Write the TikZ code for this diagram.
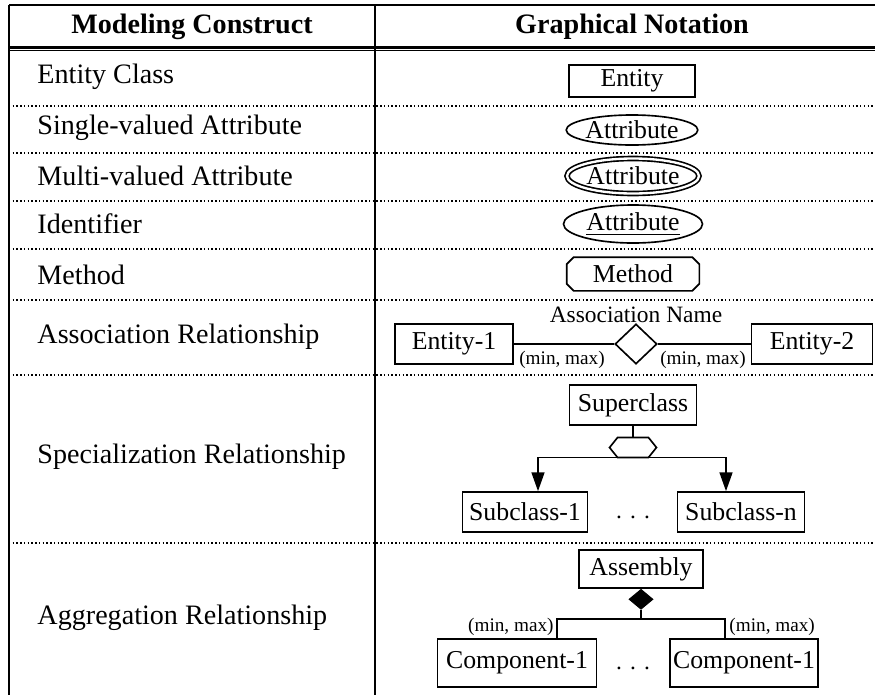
\documentclass[tikz,border=0pt]{standalone}
\usepackage{fontspec}
\setmainfont{Liberation Serif}
\usetikzlibrary{shapes.geometric,arrows.meta,calc}
\newlength\pxl
\setlength\pxl{0.015cm}

\begin{document}
\begin{tikzpicture}[x=0.015cm,y=-0.015cm,
    ent/.style={draw, line width=0.7pt, inner sep=0pt, font=\fontsize{11}{13}\selectfont},
    attr/.style={ent, ellipse},
    rowtext/.style={anchor=west, inner sep=0pt, font=\fontsize{12}{14}\selectfont},
    head/.style={inner sep=0pt, font=\fontsize{12}{14}\selectfont\bfseries},
    card/.style={inner sep=0pt, font=\fontsize{8.2}{10}\selectfont},
    tri/.style={-{Triangle[length=8pt,width=5.5pt]}, line width=0.7pt}]
        \useasboundingbox (0,0) rectangle (875,695);

        % table frame
        \draw[line width=0.8pt] (9,5) -- (875,5);
        \draw[line width=1pt] (9,47.5) -- (875,47.5);
        \draw[line width=0.6pt] (9,50.5) -- (875,50.5);
        \draw[line width=0.8pt] (9,5) -- (9,695);
        \draw[line width=0.8pt] (375,5) -- (375,695);
        \foreach \yy in {106,153,201,249,300,375,543}{
          \draw[densely dotted, line width=0.6pt] (9,\yy) -- (875,\yy);
        }

        \node[head] (hdl) at (192,27) {Modeling Construct};
        \node[head] (hdr) at (632,27) {Graphical Notation};

        \foreach \yy/\txt [count=\i] in {77/Entity Class, 128/Single-valued Attribute,
            176/Multi-valued Attribute, 224/Identifier, 275/Method,
            337/Association Relationship, 457/Specialization Relationship,
            618/Aggregation Relationship}{
          \node[rowtext] (row\i) at (37,\yy) {\txt};
        }

        % simple constructs
        \node[ent, minimum width=126\pxl, minimum height=32\pxl] (ent) at (632,81) {Entity};
        \node[attr, minimum width=129\pxl, minimum height=30\pxl] (sva) at (632,130) {Attribute};
        \node[attr, double, double distance=1pt, minimum width=132\pxl, minimum height=35\pxl] (mva) at (633,176) {Attribute};
        \node[attr, minimum width=139\pxl, minimum height=38\pxl] (ida) at (633,224) {\underline{Attribute}};
        \node[ent, draw=none, minimum width=131\pxl, minimum height=32\pxl] (meth) at (633,274) {Method};
        \draw[line width=0.7pt] ([yshift=-7\pxl]meth.north west) -- ([xshift=7\pxl]meth.north west)
            -- ([xshift=-7\pxl]meth.north east) -- ([yshift=-7\pxl]meth.north east)
            -- ([yshift=7\pxl]meth.south east) -- ([xshift=-7\pxl]meth.south east)
            -- ([xshift=7\pxl]meth.south west) -- ([yshift=7\pxl]meth.south west) -- cycle;

        % association
        \node[ent, minimum width=118\pxl, minimum height=40\pxl] (ent1) at (454,344) {Entity-1};
        \node[ent, minimum width=121\pxl, minimum height=40\pxl] (ent2) at (812,344) {Entity-2};
        \node[draw, diamond, line width=0.7pt, inner sep=0pt, minimum width=42\pxl, minimum height=40\pxl] (rel) at (636,344) {};
        \node[inner sep=0pt, font=\fontsize{10}{12}\selectfont] (relname) at (636,315) {Association Name};
        \draw[line width=0.7pt] (ent1) -- (rel) -- (ent2);
        \node[card] (card1) at (562,360) {(min, max)};
        \node[card] (card2) at (703,360) {(min, max)};

        % specialization
        \node[ent, minimum width=127\pxl, minimum height=40\pxl] (sup) at (633,405) {Superclass};
        \node[inner sep=0pt, minimum width=46\pxl, minimum height=19\pxl] (hex) at (633,447.5) {};
        \draw[line width=0.7pt] (hex.west) -- ([xshift=8\pxl]hex.north west) -- ([xshift=-8\pxl]hex.north east)
            -- (hex.east) -- ([xshift=-8\pxl]hex.south east) -- ([xshift=8\pxl]hex.south west) -- cycle;
        \node[ent, minimum width=125\pxl, minimum height=40\pxl] (sub1) at (525,512) {Subclass-1};
        \node[ent, minimum width=127\pxl, minimum height=40\pxl] (subn) at (741,512) {Subclass-n};
        \node[inner sep=0pt] (sdots) at (633,517) {.\hspace{0.35em}.\hspace{0.35em}.};
        \draw[line width=0.7pt] (sup) -- (hex);
        \draw[tri] (hex.south) -| ($(sub1.north)+(13,0)$);
        \draw[tri] (hex.south) -| ($(subn.north)+(-15,0)$);

        % aggregation
        \node[ent, minimum width=124\pxl, minimum height=38\pxl] (asm) at (641,569) {Assembly};
        \node[draw, diamond, fill=black, inner sep=0pt, minimum width=24\pxl, minimum height=20\pxl, anchor=north] (agg) at (asm.south) {};
        \node[ent, minimum width=159\pxl, minimum height=48\pxl] (comp1) at (517,663) {Component-1};
        \node[ent, minimum width=148\pxl, minimum height=48\pxl] (comp2) at (744,663) {Component-1};
        \node[inner sep=0pt] (adots) at (633,668) {.\hspace{0.35em}.\hspace{0.35em}.};
        \coordinate (fork) at ($(agg.south)+(0,9)$);
        \draw[line width=0.7pt] (agg.south) -- (fork) -| ($(comp1.north)+(40,0)$);
        \draw[line width=0.7pt] (fork) -| ($(comp2.north)+(-19,0)$);
        \node[card, anchor=east] (card3) at (554,627) {(min, max)};
        \node[card, anchor=west] (card4) at (729,627) {(min, max)};
        %\node at (633,690) {};
\end{tikzpicture}
\end{document}
